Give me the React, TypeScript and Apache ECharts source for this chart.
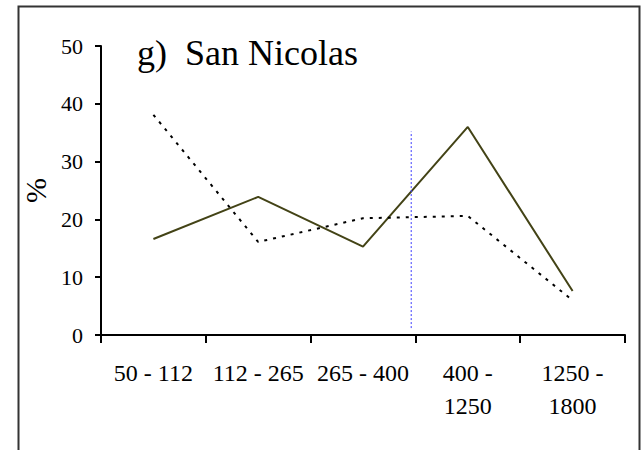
import React, { useEffect, useRef } from "react";
import * as echarts from "echarts";

const categories = ["50 - 112", "112 - 265", "265 - 400", "400 -\n1250", "1250 -\n1800"];
const solidSeries = [16.6, 23.9, 15.3, 36.0, 7.6];
const dottedSeries = [38.1, 16.1, 20.2, 20.6, 6.0];
const yTicks = [0, 10, 20, 30, 40, 50];
const dividerX = 2.46;
const dividerY = [1.2, 35.2];
const titleText = "g)  San Nicolas";
const yName = "%";

export default function App() {
  const ref = useRef<HTMLDivElement>(null);
  useEffect(() => {
    if (!ref.current) return;
    const chart = echarts.init(ref.current, undefined, { renderer: "svg" });
    const font = "'Liberation Serif', 'Times New Roman', serif";
    chart.setOption({
      animation: false,
      backgroundColor: "#ffffff",
      grid: { left: 101, top: 46, right: 17, bottom: 115, containLabel: false },
      xAxis: [
        {
          type: "category",
          data: categories,
          boundaryGap: true,
          axisLine: { lineStyle: { color: "#000", width: 2 } },
          axisTick: { show: true, length: 8, inside: false, lineStyle: { color: "#000", width: 2 } },
          axisLabel: {
            color: "#000",
            fontFamily: font,
            fontSize: 24,
            lineHeight: 33,
            margin: 21,
            interval: 0,
          },
          splitLine: { show: false },
        },
        {
          type: "value",
          min: -0.5,
          max: 4.5,
          show: false,
          position: "bottom",
        },
      ],
      yAxis: {
        type: "value",
        min: yTicks[0],
        max: yTicks[yTicks.length - 1],
        interval: 10,
        name: yName,
        nameLocation: "middle",
        nameRotate: 90,
        nameGap: 40,
        nameTextStyle: { color: "#000", fontFamily: font, fontSize: 30 },
        axisLine: { show: true, onZero: false, lineStyle: { color: "#000", width: 2 } },
        axisTick: { show: true, length: 6, lineStyle: { color: "#000", width: 2 } },
        axisLabel: { color: "#000", fontFamily: font, fontSize: 22, margin: 18 },
        splitLine: { show: false },
      },
      series: [
        {
          type: "line",
          data: solidSeries,
          symbol: "none",
          lineStyle: { color: "#434316", width: 2, type: "solid" },
        },
        {
          type: "line",
          data: dottedSeries,
          symbol: "none",
          lineStyle: { color: "#000", width: 2, type: [3, 6] },
        },
        {
          type: "line",
          xAxisIndex: 1,
          data: [
            [dividerX, dividerY[0]],
            [dividerX, dividerY[1]],
          ],
          symbol: "none",
          lineStyle: { color: "#3a3aff", width: 1, type: [2, 2] },
        },
      ],
      graphic: [
        {
          type: "rect",
          shape: { x: 18.5, y: 6.5, width: 621, height: 500 },
          style: { fill: "none", stroke: "#333", lineWidth: 2 },
          silent: true,
        },
        {
          type: "text",
          left: 137,
          top: 35,
          style: { text: titleText, fill: "#000", font: `36px ${font}` },
        },
      ],
    });
    return () => chart.dispose();
  }, []);
  return (
    <div
      ref={ref}
      style={{ position: "fixed", left: 0, top: 0, width: 642, height: 450, background: "#fff" }}
    />
  );
}
